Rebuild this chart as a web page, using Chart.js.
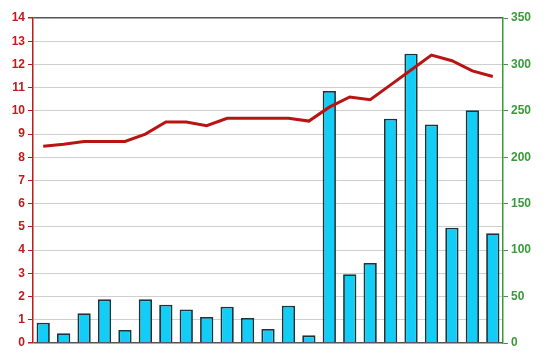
<!DOCTYPE html>
<html>
<head>
<meta charset="utf-8">
<script src="https://cdn.jsdelivr.net/npm/chart.js@4"></script>
<style>
  html, body { margin: 0; padding: 0; background: #fff; }
  #wrap { width: 550px; height: 364px; }
</style>
</head>
<body>
<div id="wrap"><canvas id="chart" width="550" height="364"></canvas></div>
<script>
// data
const categories = ['1','2','3','4','5','6','7','8','9','10','11','12','13','14','15','16','17','18','19','20','21','22','23'];
const barValues = [0.87, 0.42, 1.28, 1.88, 0.56, 1.88, 1.65, 1.44, 1.12, 1.56, 1.08, 0.6, 1.61, 0.33, 10.86, 2.96, 3.45, 9.66, 12.46, 9.41, 4.97, 10.03, 4.73];
const lineValues = [212, 214, 217, 217, 217, 225, 238, 238, 234, 242, 242, 242, 242, 239, 254, 265, 262, 278, 294, 310, 304, 293, 287];
const leftTicks = [0, 14, 1];
const rightTicks = [0, 350, 50];

const red = '#c01a1a';
const green = '#3a9a3a';

new Chart(document.getElementById('chart').getContext('2d'), {
  data: {
    labels: categories,
    datasets: [
      {
        type: 'line',
        data: lineValues,
        yAxisID: 'y2',
        borderColor: '#b81414',
        borderWidth: 3,
        pointRadius: 0,
        tension: 0,
        order: 1
      },
      {
        type: 'bar',
        data: barValues,
        yAxisID: 'y',
        backgroundColor: '#12cdf5',
        borderColor: '#1a343a',
        borderWidth: 1.8,
        categoryPercentage: 1,
        barPercentage: 0.65,
        order: 2
      }
    ]
  },
  options: {
    responsive: false,
    animation: false,
    plugins: { legend: { display: false }, tooltip: { enabled: false } },
    layout: { padding: { top: 18, bottom: 21, left: 0, right: 0 } },
    scales: {
      x: { display: false, offset: true },
      y: {
        position: 'left',
        min: leftTicks[0], max: leftTicks[1],
        afterFit: s => { s.width = 33; },
        ticks: { stepSize: leftTicks[2], color: red, padding: 3,
          font: { family: 'Liberation Sans, Arial', size: 12, weight: 'bold' } },
        grid: {
          color: c => c.tick && (c.tick.value === 14 || c.tick.value === 0) ? '#555' : '#cfcfcf',
          lineWidth: c => c.tick && (c.tick.value === 14 || c.tick.value === 0) ? 1.5 : 1,
          tickColor: red, tickLength: 5
        },
        border: { color: red, width: 1.5 }
      },
      y2: {
        position: 'right',
        min: rightTicks[0], max: rightTicks[1],
        afterFit: s => { s.width = 47; },
        ticks: { stepSize: rightTicks[2], color: green, padding: 3,
          font: { family: 'Liberation Sans, Arial', size: 12, weight: 'bold' } },
        grid: { drawOnChartArea: false, tickColor: green, tickLength: 5 },
        border: { color: green, width: 1.5 }
      }
    }
  }
});
</script>
</body>
</html>
